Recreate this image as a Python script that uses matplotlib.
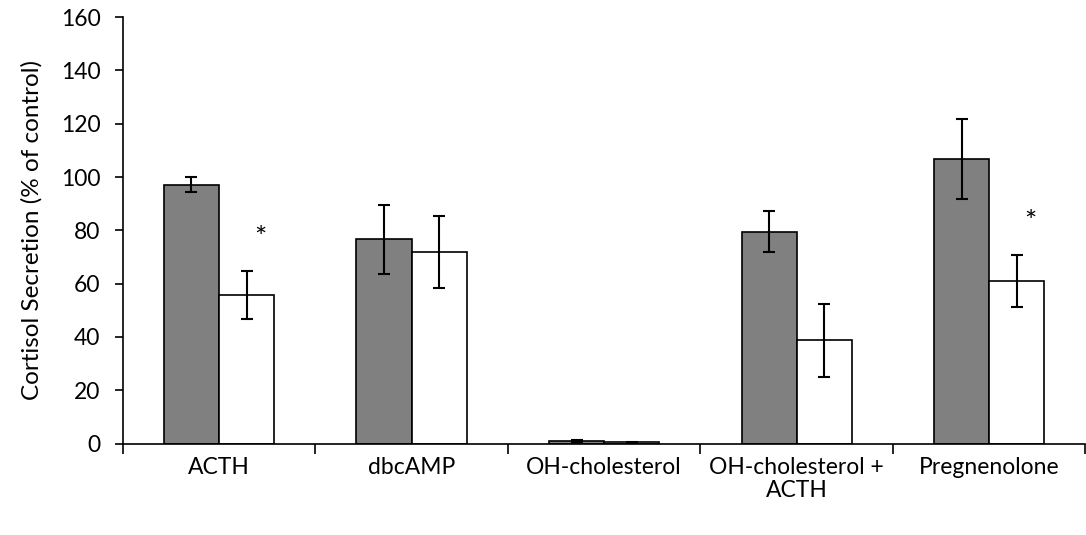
import matplotlib
matplotlib.use("Agg")
from matplotlib import pyplot as plt
import numpy as np

# Cortisol secretion by treatment, two conditions per group
categories = ["ACTH", "dbcAMP", "OH-cholesterol", "OH-cholesterol +\nACTH", "Pregnenolone"]
grey_values = [97.1, 76.6, 1.0, 79.5, 106.8]
grey_errors = [2.8, 12.9, 0.3, 7.7, 15.1]
white_values = [55.8, 71.9, 0.5, 38.7, 61.0]
white_errors = [9.1, 13.6, 0.2, 13.6, 9.9]
significant = [True, False, False, False, True]

plt.rcParams["font.family"] = ["Lato", "DejaVu Sans"]
fs = 16.5

fig = plt.figure(figsize=(10.86, 5.35), dpi=100)
ax = fig.add_axes([0.113, 0.171, 0.8865, 0.797])

x = np.arange(len(categories))
w = 0.286
err_kw = dict(ecolor="black", elinewidth=1.5, capsize=4.5, capthick=1.5)
ax.bar(x - w / 2, grey_values, w, yerr=grey_errors, color="#808080",
       edgecolor="black", linewidth=1.2, error_kw=err_kw)
ax.bar(x + w / 2, white_values, w, yerr=white_errors, color="white",
       edgecolor="black", linewidth=1.2, error_kw=err_kw)

# asterisks above significant white bars
for xi, v, e, sig in zip(x, white_values, white_errors, significant):
    if sig:
        ax.text(xi + w / 2 + 0.07, v + e + 12, "*", ha="center", va="center",
                fontsize=21)

ax.set_xlim(-0.5, len(categories) - 0.5)
ax.set_ylim(0, 160)
ax.set_yticks(np.arange(0, 161, 20))
ax.set_ylabel("Cortisol Secretion (% of control)", fontsize=17.5, labelpad=13)

# boundary ticks between groups, labels at group centres
ax.set_xticks(np.arange(-0.5, len(categories), 1.0))
ax.set_xticklabels([])
ax.set_xticks(x, minor=True)
ax.set_xticklabels(categories, minor=True, fontsize=fs, linespacing=1.1)
ax.tick_params(axis="x", which="major", direction="out", length=7, width=1.2)
ax.tick_params(axis="x", which="minor", length=0, pad=10)
ax.tick_params(axis="y", direction="out", length=6, width=1.2, labelsize=fs, pad=10)

for side in ["top", "right"]:
    ax.spines[side].set_visible(False)
for side in ["left", "bottom"]:
    ax.spines[side].set_linewidth(1.2)

fig.savefig("out.png", dpi=100)
